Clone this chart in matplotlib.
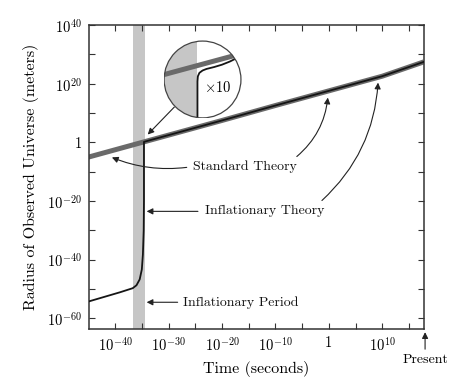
import numpy as np
import matplotlib.pyplot as plt
from matplotlib.patches import Circle

plt.rcParams['font.family'] = 'serif'
plt.rcParams['font.serif'] = ['cmr10']
plt.rcParams['mathtext.fontset'] = 'cm'
plt.rcParams['axes.unicode_minus'] = False
plt.rcParams['axes.formatter.use_mathtext'] = True

# everything in log10 units: time in seconds, radius in meters
std_logt = [-45, -35, -20, -10, 0, 10, 17.8]
std_logr = [-5, 0, 7.5, 12.6, 17.6, 22.6, 27.5]

# inflationary curve, joins the standard line after inflation
infl_logt = [-44.9, -39.1, -36.7, -36.0, -35.4, -35.0, -34.8, -34.65, -34.6, -34.6, -34.6,
             -20, -10, 0, 10, 17.8]
infl_logr = [-54.2, -51.1, -49.7, -48.7, -46.7, -43.3, -38.2, -30, -20, -10, 0.2,
             7.5, 12.6, 17.6, 22.6, 27.5]

infl_period = [-36.7, -34.5]

x_major = [-40, -30, -20, -10, 0, 10]
x_minor = [-35, -25, -15, -5, 5, 15]
y_major = [-60, -40, -20, 0, 20, 40]
y_minor = [-50, -30, -10, 10, 30]

# zoomed view (x10) inside the circle, unit-circle coordinates
zoom_band = [-1.0, -0.13]
zoom_std_x = [-1.1, 1.1]
zoom_std_y = [0.095, 0.69]
zoom_infl_x = [-0.13, -0.13, -0.12, -0.08, 0.0, 0.1, 0.3, 0.5, 0.7, 0.9, 1.1]
zoom_infl_y = [-1.1, -0.05, 0.08, 0.17, 0.23, 0.27, 0.32, 0.38, 0.46, 0.56, 0.66]


def tick_label(e):
    return '1' if e == 0 else r'$10^{%d}$' % e


def p(v):
    return 10.0 ** np.asarray(v, dtype=float)


fig = plt.figure(figsize=(4.68, 3.87), dpi=100)
ax = fig.add_axes([0.190, 0.150, 0.716, 0.785])
ax.set_xscale('log')
ax.set_yscale('log')

ax.axvspan(p(infl_period[0]), p(infl_period[1]), color='#c6c6c6', lw=0, zorder=1)
ax.plot(p(std_logt), p(std_logr), color='#6a6a6a', lw=3.6, solid_capstyle='butt', zorder=2)
ax.plot(p(infl_logt), p(infl_logr), color='#151515', lw=1.3, zorder=3)

ax.set_xlim(p(-44.9), p(17.8))
ax.set_ylim(p(-63.6), p(40))

ax.set_xticks(p(x_major))
ax.set_xticklabels([tick_label(e) for e in x_major])
ax.set_xticks(p(x_minor), minor=True)
ax.set_xticklabels([], minor=True)
ax.set_yticks(p(y_major))
ax.set_yticklabels([tick_label(e) for e in y_major])
ax.set_yticks(p(y_minor), minor=True)
ax.set_yticklabels([], minor=True)

ax.tick_params(which='both', direction='in', top=True, right=True, length=4,
               width=0.8, color='#333333', labelsize=10.5, pad=5)
for s in ax.spines.values():
    s.set_linewidth(1.1)
    s.set_color('#333333')

ax.set_xlabel('Time (seconds)', fontsize=11.5, labelpad=5)
ax.set_ylabel('Radius of Observed Universe (meters)', fontsize=11.5, labelpad=6)

arrow = dict(arrowstyle='-|>', color='#222222', lw=0.8, mutation_scale=9, shrinkA=0, shrinkB=0)
txt = dict(fontsize=10, va='center', ha='left', color='#111111')

ax.text(p(-25.5), p(-8.2), 'Standard Theory', **txt)
ax.annotate('', xy=(p(-40.6), p(-5.1)), xytext=(p(-26.6), p(-8.5)),
            arrowprops=dict(arrow, connectionstyle='arc3,rad=-0.13'))
ax.annotate('', xy=(p(-0.2), p(15.3)), xytext=(p(-6.0), p(-4.8)),
            arrowprops=dict(arrow, connectionstyle='arc3,rad=0.2'))

ax.text(p(-23.2), p(-23.5), 'Inflationary Theory', **txt)
ax.annotate('', xy=(p(-34.1), p(-23.5)), xytext=(p(-24.5), p(-23.5)), arrowprops=arrow)
ax.annotate('', xy=(p(9.2), p(20.4)), xytext=(p(-1.3), p(-19.8)),
            arrowprops=dict(arrow, connectionstyle='arc3,rad=0.2'))

ax.text(p(-27.3), p(-54.5), 'Inflationary Period', **txt)
ax.annotate('', xy=(p(-34.1), p(-54.5)), xytext=(p(-28.3), p(-54.5)), arrowprops=arrow)

# arrow from the magnified circle to the junction
ax.annotate('', xy=(p(-33.9), p(2.7)), xytext=(p(-28.8), p(12.3)), arrowprops=arrow)

# present day marker below the axis
ax.annotate('', xy=(p(18.0), p(-64.7)), xytext=(p(18.0), p(-70.5)),
            arrowprops=arrow, annotation_clip=False)
ax.text(p(18.0), p(-74.3), 'Present', fontsize=10, ha='center', va='center', clip_on=False)

# magnified inset
ins = fig.add_axes([0.3494, 0.6938, 0.1667, 0.2016])
ins.set_xlim(-1.0, 1.0)
ins.set_ylim(-1.0, 1.0)
ins.axis('off')
ins.add_patch(Circle((0, 0), 1.0, facecolor='white', edgecolor='none', zorder=0))
circ = Circle((0, 0), 0.985, facecolor='none', edgecolor='#444444', lw=0.9, zorder=5)
ins.add_patch(circ)
band = ins.axvspan(zoom_band[0], zoom_band[1], color='#c6c6c6', lw=0, zorder=1)
band.set_clip_path(circ)
l1, = ins.plot(zoom_std_x, zoom_std_y, color='#6a6a6a', lw=3.6, zorder=2)
l2, = ins.plot(zoom_infl_x, zoom_infl_y, color='#151515', lw=1.3, zorder=3)
l1.set_clip_path(circ)
l2.set_clip_path(circ)
ins.text(0.4, -0.2, r'$\times$10', fontsize=10.5, ha='center', va='center')

fig.savefig('out.png', dpi=100)
